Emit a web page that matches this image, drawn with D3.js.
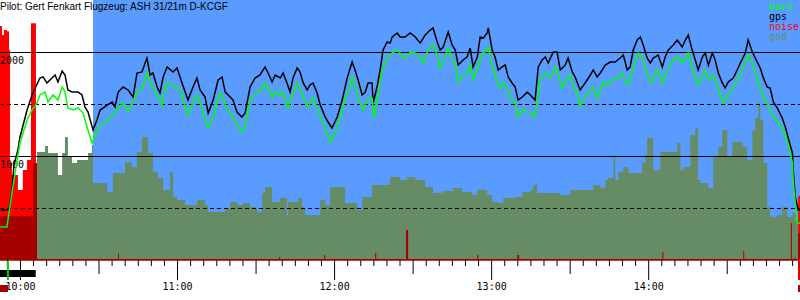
<!DOCTYPE html>
<html>
<head>
<meta charset="utf-8">
<script src="https://cdn.jsdelivr.net/npm/d3@7"></script>
<style>
  body { margin: 0; background: #fff; }
  svg { display: block; }
</style>
</head>
<body>
<div id="barogram"></div>
<script>
var width = 800, height = 300;
var plotBottom = 260;

var title = "Pilot: Gert Fenkart Flugzeug: ASH 31/21m D-KCGF";
var legendLabels = ["baro", "gps", "noise", "gnd"];

// time in minutes after 10:00, altitude in metres
var timeStart = -7.64, timeEnd = 298.0, releaseTime = 27.9;
var hourLabels = ["10:00", "11:00", "12:00", "13:00", "14:00"];
var altGrid = [500, 1000, 1500, 2000];
var altLabels = [1000, 2000];

var gps = [
  [-7.3, 481], [-4.2, 481], [-3.1, 673], [-2.3, 913], [-0.8, 1060], [0, 1183], [2.7, 1442], [4.6, 1587],
  [7.6, 1750], [8.8, 1760], [10.3, 1702], [12.2, 1750], [13.4, 1779], [14.5, 1712], [16.1, 1817],
  [17.2, 1779], [18.3, 1635], [19.9, 1615], [22.2, 1615], [23.7, 1587], [24.8, 1471], [26.0, 1423],
  [27.9, 1250], [29.4, 1346], [30.6, 1442], [33.3, 1490], [35.2, 1519], [36.3, 1471], [37.5, 1615],
  [39.4, 1663], [41.3, 1635], [43.2, 1567], [44.7, 1798], [46.6, 1808], [48.5, 1942], [49.7, 1779],
  [50.8, 1798], [52.4, 1663], [53.5, 1606], [54.7, 1760], [56.2, 1856], [58.5, 1808], [60.0, 1846],
  [61.9, 1702], [64.2, 1538], [66.1, 1663], [67.6, 1750], [68.8, 1635], [70.7, 1567], [71.9, 1413],
  [73.8, 1538], [75.7, 1731], [77.2, 1760], [78.4, 1615], [80.3, 1567], [81.4, 1538], [82.9, 1423],
  [84.8, 1375], [86.0, 1413], [87.9, 1663], [89.8, 1750], [91.7, 1779], [93.6, 1856], [94.8, 1798],
  [96.3, 1712], [97.5, 1779], [99.4, 1750], [100.5, 1798], [102.0, 1702], [103.2, 1615], [104.3, 1750],
  [105.9, 1846], [107.0, 1808], [108.2, 1702], [109.7, 1635], [110.8, 1683], [112.0, 1702], [113.5, 1606],
  [114.7, 1490], [116.6, 1375], [117.7, 1327], [119.2, 1269], [121.2, 1375], [123.1, 1538], [125.0, 1750],
  [126.9, 1904], [128.0, 1827], [129.2, 1731], [130.7, 1587], [131.9, 1615], [133.0, 1702], [134.5, 1702],
  [134.9, 1510], [136.4, 1663], [137.6, 1827], [138.7, 2019], [140.3, 2096], [141.4, 2086], [142.2, 2144],
  [144.1, 2183], [145.2, 2144], [147.1, 2144], [149.1, 2183], [151.0, 2144], [152.9, 2086], [154.8, 2163],
  [156.7, 2211], [157.8, 2231], [159.4, 2096], [160.5, 2019], [161.7, 2048], [163.6, 2192], [165.1, 2067],
  [166.3, 2019], [167.4, 1875], [169.3, 1923], [170.8, 1952], [172.0, 2038], [173.1, 1856], [174.7, 1952],
  [175.8, 2144], [177.0, 2134], [178.5, 2183], [178.9, 2231], [180.4, 2019], [181.5, 1952], [182.7, 1827],
  [184.2, 1856], [185.4, 1875], [186.5, 1760], [188.0, 1702], [189.2, 1663], [190.3, 1538], [191.9, 1567],
  [193.8, 1615], [195.7, 1567], [196.8, 1538], [198.0, 1856], [199.5, 1923], [200.7, 1952], [201.8, 1894],
  [203.7, 2000], [205.2, 2000], [206.4, 1827], [208.3, 1875], [209.4, 1942], [211.0, 1808], [212.1, 1760],
  [214.0, 1635], [215.9, 1702], [217.9, 1779], [219.0, 1827], [220.5, 1760], [221.7, 1798], [223.6, 1875],
  [225.5, 1904], [227.4, 1904], [229.3, 1942], [230.5, 1971], [232.0, 1827], [233.1, 1856], [234.3, 2019],
  [235.8, 2115], [237.0, 2144], [238.1, 2067], [239.6, 1942], [240.8, 1894], [241.9, 1942], [243.8, 1971],
  [245.4, 1856], [246.5, 1952], [247.7, 2019], [249.6, 2067], [251.1, 2115], [253.0, 2048], [254.2, 2115],
  [255.3, 2163], [256.8, 2019], [258.0, 1923], [259.1, 1827], [260.7, 1952], [261.8, 1990], [263.0, 1875],
  [264.5, 1990], [265.6, 1923], [266.8, 1798], [268.3, 1702], [269.4, 1654], [270.6, 1712], [272.5, 1750],
  [274.0, 1827], [275.2, 1894], [277.1, 1990], [278.2, 2115], [279.8, 2000], [280.9, 1942], [282.8, 1846],
  [284.0, 1750], [285.5, 1663], [286.6, 1654], [287.8, 1519], [289.3, 1462], [291.2, 1365], [292.4, 1279],
  [293.5, 1173], [295.1, 1029], [295.4, 865], [296.2, 606], [297.3, 481], [298.0, 481]
];

var baro = [
  [-7.6, 317], [-5.0, 317], [-3.1, 644], [-1.1, 962], [0, 1125], [2.7, 1346], [4.6, 1442], [6.5, 1510],
  [7.6, 1587], [9.6, 1615], [10.7, 1519], [12.6, 1587], [14.5, 1538], [16.1, 1663], [17.2, 1615],
  [18.3, 1462], [20.3, 1442], [22.2, 1462], [24.1, 1413], [25.6, 1279], [27.5, 1125], [28.7, 1202],
  [30.6, 1298], [33.3, 1346], [35.5, 1394], [37.5, 1462], [39.4, 1510], [41.3, 1423], [43.2, 1519],
  [44.7, 1615], [46.6, 1635], [48.5, 1798], [50.5, 1663], [52.4, 1587], [54.3, 1490], [55.4, 1683],
  [57.3, 1702], [59.2, 1663], [61.2, 1635], [63.1, 1471], [64.2, 1394], [66.1, 1519], [67.6, 1587],
  [68.8, 1519], [69.9, 1413], [71.9, 1269], [73.8, 1375], [76.4, 1606], [77.6, 1558], [79.1, 1442],
  [81.0, 1394], [82.9, 1298], [84.8, 1231], [86.0, 1279], [87.9, 1538], [90.6, 1615], [92.5, 1635],
  [93.6, 1702], [94.8, 1654], [96.3, 1567], [97.5, 1615], [99.4, 1587], [100.5, 1615], [102.4, 1462],
  [104.0, 1587], [105.9, 1702], [107.0, 1654], [108.9, 1519], [110.1, 1471], [112.0, 1558], [113.5, 1462],
  [115.4, 1346], [116.6, 1279], [118.5, 1135], [120.4, 1221], [122.3, 1365], [124.2, 1558], [126.1, 1663],
  [126.9, 1760], [128.0, 1683], [129.9, 1510], [131.1, 1442], [132.6, 1538], [134.5, 1558], [135.3, 1365],
  [136.8, 1587], [138.4, 1827], [140.3, 1952], [142.2, 1990], [144.1, 2019], [145.2, 1990], [147.1, 1942],
  [149.1, 2000], [151.0, 1990], [152.9, 1952], [154.0, 1894], [155.9, 2019], [157.8, 2067], [159.4, 1971],
  [160.5, 1846], [161.7, 1904], [163.6, 2038], [165.1, 1923], [166.3, 1894], [167.4, 1712], [169.3, 1779],
  [170.8, 1798], [172.0, 1875], [173.1, 1731], [175.0, 1856], [176.6, 1990], [177.7, 2000], [178.9, 2048],
  [180.4, 1875], [182.3, 1712], [183.5, 1654], [184.6, 1702], [186.1, 1663], [187.3, 1558], [189.2, 1510],
  [190.3, 1375], [191.9, 1442], [193.8, 1423], [195.7, 1413], [196.5, 1375], [197.6, 1510], [198.7, 1731],
  [200.7, 1798], [202.6, 1750], [204.5, 1856], [205.6, 1779], [207.2, 1654], [209.1, 1760], [210.2, 1779],
  [211.4, 1663], [212.9, 1615], [214.0, 1471], [215.9, 1567], [217.9, 1635], [219.0, 1663], [220.5, 1558],
  [221.7, 1635], [222.8, 1712], [224.4, 1683], [226.3, 1731], [228.2, 1750], [230.1, 1798], [231.3, 1712],
  [232.4, 1683], [234.3, 1856], [236.2, 1990], [237.7, 1952], [238.9, 1856], [240.0, 1750], [241.5, 1702],
  [242.7, 1798], [243.8, 1827], [245.4, 1702], [246.5, 1779], [248.4, 1875], [250.3, 1942], [251.5, 1952],
  [253.0, 1894], [254.2, 1942], [255.3, 1990], [257.2, 1808], [259.1, 1683], [260.7, 1779], [261.8, 1827],
  [263.0, 1731], [264.9, 1779], [266.4, 1683], [267.5, 1587], [268.7, 1510], [270.6, 1587], [272.5, 1663],
  [274.4, 1750], [276.3, 1856], [278.2, 1971], [279.8, 1894], [281.7, 1750], [282.8, 1654], [284.7, 1538],
  [286.6, 1442], [287.8, 1375], [289.7, 1327], [291.2, 1269], [292.4, 1202], [293.5, 1106], [295.1, 933],
  [295.4, 769], [296.2, 548], [297.0, 356], [298.0, 356]
];

// ground elevation, each value holds until the next time
var gnd = [
  [6.5, 1038], [9.6, 1096], [10.7, 1029], [14.5, 817], [16.1, 1029], [17.2, 1183], [18.3, 990], [19.9, 933],
  [21.8, 962], [26.0, 1029], [27.5, 1106], [27.9, 740], [33.3, 654], [35.5, 837], [40.1, 942], [42.8, 894],
  [44.7, 1038], [46.6, 1183], [48.9, 1029], [50.8, 846], [52.7, 788], [54.7, 673], [57.3, 846], [58.5, 606],
  [60.0, 577], [63.1, 529], [67.6, 577], [70.7, 529], [71.9, 462], [78.4, 500], [80.3, 558], [82.9, 529],
  [85.2, 548], [87.9, 510], [90.6, 462], [92.5, 644], [93.6, 702], [96.3, 558], [99.4, 596], [102.0, 413],
  [102.4, 558], [106.3, 596], [107.8, 510], [108.9, 433], [114.7, 577], [116.6, 529], [118.5, 702],
  [124.2, 548], [128.8, 481], [130.7, 606], [134.5, 721], [141.4, 798], [145.2, 769], [147.9, 798],
  [151.0, 769], [154.8, 702], [157.8, 644], [161.3, 663], [165.5, 692], [168.9, 654], [172.8, 625],
  [174.7, 673], [178.5, 625], [180.4, 558], [182.7, 548], [184.6, 596], [189.2, 606], [191.9, 654],
  [194.9, 673], [196.1, 721], [197.6, 644], [206.4, 625], [210.2, 673], [219.0, 721], [221.7, 692],
  [223.6, 769], [224.7, 788], [226.7, 990], [227.4, 769], [228.6, 846], [230.5, 894], [232.4, 837],
  [237.7, 933], [238.9, 1010], [239.6, 1173], [241.9, 865], [244.6, 1038], [251.1, 1125], [252.3, 865],
  [253.4, 894], [256.1, 1202], [258.0, 1269], [259.1, 769], [259.9, 740], [263.0, 692], [264.9, 990],
  [266.8, 1087], [268.3, 1250], [270.2, 990], [272.1, 1135], [276.0, 1087], [277.8, 962], [279.8, 1250],
  [280.9, 1365], [282.1, 1510], [282.8, 1346], [284.0, 933], [285.5, 510], [286.6, 413], [289.3, 433],
  [291.2, 510], [293.1, 413], [295.1, 452], [296.2, 385], [298.0, 385]
];

// noise level 0..1000, each value holds until the next time
var noiseHigh = [
  [-7.64, 900], [-6.9, 865], [-6.1, 885], [-5.0, 880], [-4.2, 808], [-3.8, 373], [-3.1, 327],
  [-0.8, 269], [1.1, 346], [2.7, 385], [4.2, 911], [6.1, 0], [297.3, 246], [298.0, 246]
];
var noiseLow = [
  [-7.64, 169], [5.0, 373], [6.5, 4], [37.5, 27], [37.8, 4], [99.0, 12], [99.4, 4], [116.2, 19], [116.6, 4],
  [135.7, 27], [136.1, 4], [147.5, 115], [148.3, 4], [174.7, 19], [175.1, 4], [190.0, 19], [190.7, 4],
  [245.4, 31], [245.8, 4], [276.3, 35], [276.7, 4], [294.5, 142], [294.9, 4], [295.9, 12], [296.2, 4],
  [297.3, 104], [298.0, 104]
];

var svg = d3.select("#barogram")
  .append("svg")
  .attr("width", width)
  .attr("height", height)
  .style("font-family", "DejaVu Sans Mono");

var x = d3.scaleLinear()
  .domain([timeStart, timeEnd])
  .range([0, width]);

var y = d3.scaleLinear()
  .domain([0, 2500])
  .range([plotBottom, 0]);

var yNoise = d3.scaleLinear()
  .domain([0, 1000])
  .range([plotBottom, 0]);

// free flight background
svg.append("rect")
  .attr("x", x(releaseTime))
  .attr("y", 0)
  .attr("width", width - x(releaseTime))
  .attr("height", plotBottom)
  .attr("fill", "#5a9bff");

svg.append("path")
  .datum(gnd)
  .attr("fill", "#668c66")
  .attr("d", d3.area()
    .curve(d3.curveStepAfter)
    .x(d => x(d[0]))
    .y0(plotBottom)
    .y1(d => y(d[1])));

var noiseArea = d3.area()
  .curve(d3.curveStepAfter)
  .x(d => x(d[0]))
  .y0(plotBottom)
  .y1(d => yNoise(d[1]));

svg.append("path").datum(noiseHigh).attr("fill", "#ff0000").attr("d", noiseArea);
svg.append("path").datum(noiseLow).attr("fill", "#a50000").attr("d", noiseArea);

// altitude grid
svg.append("g")
  .selectAll("line")
  .data(altGrid)
  .enter()
  .append("line")
  .attr("x1", 0)
  .attr("x2", width)
  .attr("y1", d => Math.round(y(d)) + 0.5)
  .attr("y2", d => Math.round(y(d)) + 0.5)
  .attr("stroke", "#000")
  .attr("stroke-dasharray", d => d % 1000 ? "4,3" : null);

svg.append("g")
  .attr("transform", "translate(0,0)")
  .call(d3.axisRight(y).tickValues(altLabels).tickSize(0).tickPadding(0).tickFormat(d3.format("d")))
  .call(g => g.select(".domain").remove())
  .selectAll("text")
  .attr("dy", "11px")
  .style("font-size", "10px")
  .style("font-family", "DejaVu Sans Mono")
  .attr("fill", "#000");

var line = d3.line()
  .x(d => x(d[0]))
  .y(d => y(d[1]));

svg.append("path")
  .datum(gps)
  .attr("fill", "none")
  .attr("stroke", "#000")
  .attr("stroke-width", 1.5)
  .attr("d", line);

svg.append("path")
  .datum(baro)
  .attr("fill", "none")
  .attr("stroke", "#00ff00")
  .attr("stroke-width", 1.5)
  .attr("d", line);

// time axis: 5 min, 30 min and hour ticks
var minorTicks = d3.range(-5, timeEnd, 5).filter(d => d % 30);
var halfTicks = d3.range(30, timeEnd, 60);
var hourTicks = d3.range(0, timeEnd, 60);

function timeAxis(values, size) {
  return g => g
    .attr("transform", `translate(0,${plotBottom})`)
    .call(d3.axisBottom(x).tickValues(values).tickSize(size).tickPadding(3)
      .tickFormat((d, i) => size > 15 ? hourLabels[i] : ""))
    .call(g => g.select(".domain").remove());
}

svg.append("g").call(timeAxis(minorTicks, 6));
svg.append("g").call(timeAxis(halfTicks, 14));
svg.append("g")
  .call(timeAxis(hourTicks, 20))
  .selectAll("text")
  .style("font-size", "10px")
  .style("font-family", "DejaVu Sans Mono")
  .attr("fill", "#000");

// noise baseline
svg.append("line")
  .attr("x1", 0).attr("x2", width)
  .attr("y1", plotBottom).attr("y2", plotBottom)
  .attr("stroke", "#a50000")
  .attr("stroke-width", 1.5);

// engine run / takeoff / landing marks
svg.append("rect")
  .attr("x", x(timeStart)).attr("y", 270)
  .attr("width", x(6.0) - x(timeStart)).attr("height", 7)
  .attr("fill", "#000");
svg.append("rect")
  .attr("x", x(-5.0)).attr("y", 261)
  .attr("width", 2).attr("height", 19)
  .attr("fill", "#00cc00");
svg.append("rect")
  .attr("x", x(timeStart)).attr("y", 285)
  .attr("width", 8).attr("height", 7)
  .attr("fill", "#a50000");
svg.append("rect")
  .attr("x", width - 2).attr("y", 261)
  .attr("width", 2).attr("height", 19)
  .attr("fill", "#e00000");
svg.append("rect")
  .attr("x", width - 2).attr("y", 285)
  .attr("width", 2).attr("height", 7)
  .attr("fill", "#a50000");

svg.append("text")
  .attr("x", 0)
  .attr("y", 10)
  .style("font-family", "Liberation Sans, Arial, sans-serif")
  .style("font-size", "10px")
  .attr("fill", "#000")
  .text(title);

var legendColors = ["#00ff00", "#000", "#ff0000", "#668c66"];
svg.append("g")
  .selectAll("text")
  .data(legendLabels)
  .enter()
  .append("text")
  .attr("x", 769)
  .attr("y", (d, i) => 10 + i * 10)
  .style("font-size", "10px")
  .attr("fill", (d, i) => legendColors[i])
  .text(d => d);
</script>
</body>
</html>
